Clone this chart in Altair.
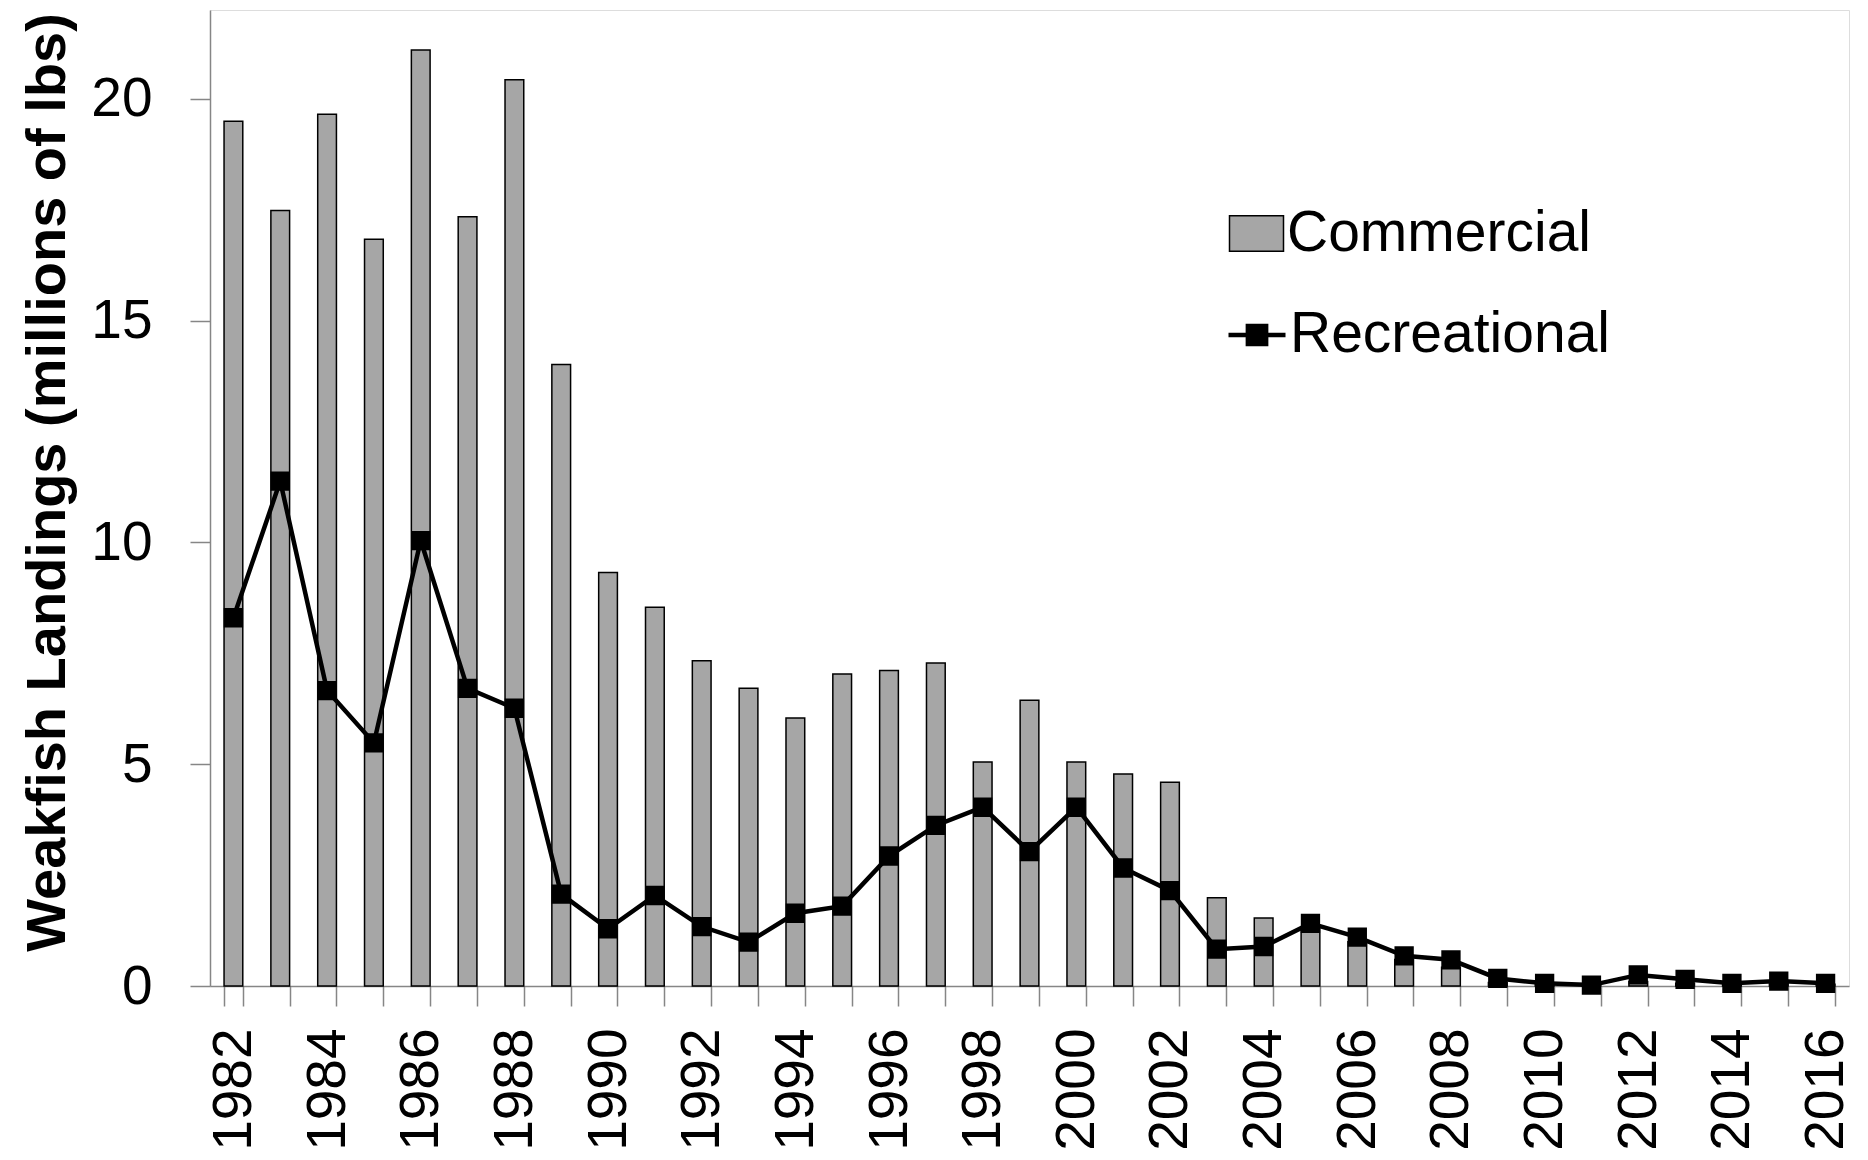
import altair as alt
import pandas as pd

years = list(range(1982, 2017))
commercial = [19.49, 17.48, 19.65, 16.83, 21.10, 17.34, 20.43, 14.01, 9.32, 8.54,
              7.33, 6.71, 6.04, 7.03, 7.11, 7.28, 5.05, 6.44, 5.05, 4.78,
              4.59, 1.99, 1.53, 1.30, 1.00, 0.60, 0.42, 0.08, 0.05, 0.04,
              0.10, 0.06, 0.05, 0.05, 0.04]
recreational = [8.30, 11.38, 6.66, 5.48, 10.04, 6.71, 6.26, 2.07, 1.29, 2.04,
                1.34, 0.99, 1.64, 1.80, 2.93, 3.62, 4.03, 3.03, 4.03, 2.66,
                2.15, 0.83, 0.89, 1.41, 1.10, 0.68, 0.59, 0.17, 0.06, 0.02,
                0.25, 0.15, 0.06, 0.11, 0.06]

df = pd.DataFrame({"year": years, "commercial": commercial, "recreational": recreational,
                   "cs": "Commercial", "rs": "Recreational"})

AXIS_GRAY = "#868686"
FONT = "Liberation Sans"

x = alt.X("year:O",
          scale=alt.Scale(paddingInner=0.6, paddingOuter=0.3),
          axis=alt.Axis(title=None, labelAngle=270, labelFontSize=55, labelFont=FONT,
                        labelColor="black", labelPadding=22, tickSize=20, tickColor=AXIS_GRAY,
                        tickWidth=1.5, domainColor=AXIS_GRAY, domainWidth=1.5,
                        tickBand="extent",
                        labelExpr="datum.value % 2 == 0 ? datum.label : ''"))

y_scale = alt.Scale(domain=[0, 22], nice=False)

bars = alt.Chart(df).mark_bar(stroke="black", strokeWidth=1.5).encode(
    x=x,
    y=alt.Y("commercial:Q", scale=y_scale,
            axis=alt.Axis(title="Weakfish Landings (millions of lbs)", values=[0, 5, 10, 15, 20],
                          grid=False, labelFontSize=55, labelFont=FONT, labelColor="black",
                          labelPadding=38, tickSize=20, tickColor=AXIS_GRAY, tickWidth=1.5,
                          domainColor=AXIS_GRAY, domainWidth=1.5,
                          titleFont=FONT, titleFontSize=56, titleFontWeight="bold",
                          titleColor="black", titlePadding=14, titleY=472)),
    fill=alt.Fill("cs:N", scale=alt.Scale(domain=["Commercial"], range=["#a6a6a6"]),
                  legend=alt.Legend(title=None, orient="none", legendX=1018, legendY=195,
                                    padding=0, symbolType="M-1,-0.66H1V0.66H-1Z",
                                    symbolSize=2916, symbolStrokeColor="black",
                                    symbolStrokeWidth=1.5, labelFontSize=57, labelLimit=0,
                                    labelFont=FONT, labelColor="black", labelOffset=2)),
)

line = alt.Chart(df).mark_line(color="black", strokeWidth=4.5,
                               point=alt.OverlayMarkDef(shape="square", size=300, filled=True,
                                                        color="black")).encode(
    x=x,
    y=alt.Y("recreational:Q", scale=y_scale),
    stroke=alt.Stroke("rs:N", scale=alt.Scale(domain=["Recreational"], range=["black"]),
                      legend=alt.Legend(title=None, orient="none", legendX=1016, legendY=294,
                                        padding=0,
                                        symbolType="M-1,0H1M-0.32,-0.32H0.32V0.32H-0.32Z",
                                        symbolSize=3249, symbolFillColor="black",
                                        symbolStrokeColor="black", symbolStrokeWidth=4.5,
                                        labelFontSize=57, labelLimit=0, labelFont=FONT,
                                        labelColor="black", labelOffset=2)),
)

chart = alt.layer(bars, line).resolve_scale(y="shared").properties(
    width=1639, height=976,
    padding={"left": 11, "top": 2, "right": 5, "bottom": 5},
).configure_view(stroke=None).configure(background="white")

chart.save("out.html", embed_options={"renderer": "svg", "actions": False})
